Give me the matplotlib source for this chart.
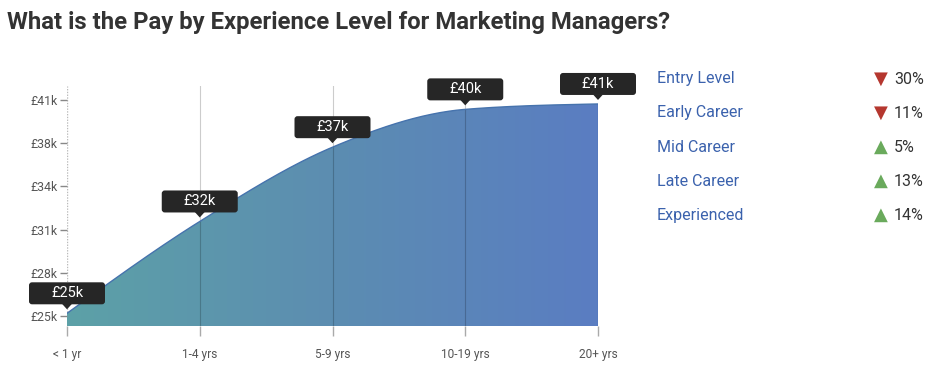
import numpy as np
import matplotlib
matplotlib.use("Agg")
import matplotlib.pyplot as plt
import matplotlib.transforms as mtransforms
from matplotlib.colors import LinearSegmentedColormap
from matplotlib.patches import FancyBboxPatch, Polygon

# data
experience = ["< 1 yr", "1-4 yrs", "5-9 yrs", "10-19 yrs", "20+ yrs"]
pay_k = [25.0, 31.8, 37.3, 40.1, 40.5]
pay_labels = ["£25k", "£32k", "£37k", "£40k", "£41k"]
ytick_vals = [24.8, 28.0, 31.2, 34.4, 37.6, 40.8]
ytick_labels = ["£25k", "£28k", "£31k", "£34k", "£38k", "£41k"]
levels = ["Entry Level", "Early Career", "Mid Career", "Late Career", "Experienced"]
change_pct = [-30, -11, 5, 13, 14]

plt.rcParams['font.family'] = ['Roboto', 'DejaVu Sans']


def monotone_curve(x, y, n=60):
    """Monotone cubic path through the points (like d3.curveMonotoneX)."""
    x = np.asarray(x, float)
    y = np.asarray(y, float)
    h = np.diff(x)
    s = np.diff(y) / h
    t = np.zeros_like(y)
    for i in range(1, len(y) - 1):
        p = (s[i - 1] * h[i] + s[i] * h[i - 1]) / (h[i - 1] + h[i])
        t[i] = (np.sign(s[i - 1]) + np.sign(s[i])) * min(abs(s[i - 1]), abs(s[i]), 0.5 * abs(p))
    t[0] = (3 * s[0] - t[1]) / 2
    t[-1] = (3 * s[-1] - t[-2]) / 2
    xs, ys = [], []
    for i in range(len(h)):
        u = np.linspace(0, 1, n)
        h00 = 2 * u**3 - 3 * u**2 + 1
        h10 = u**3 - 2 * u**2 + u
        h01 = -2 * u**3 + 3 * u**2
        h11 = u**3 - u**2
        xs.append(x[i] + u * h[i])
        ys.append(h00 * y[i] + h10 * h[i] * t[i] + h01 * y[i + 1] + h11 * h[i] * t[i + 1])
    return np.concatenate(xs), np.concatenate(ys)


fig = plt.figure(figsize=(9.38, 3.72), dpi=100)
ax = fig.add_axes([67 / 938, 46 / 372, 531 / 938, 240 / 372])

xpos = np.arange(len(experience))
ymin, ymax = 24.06, 41.83
ax.set_xlim(0, len(experience) - 1)
ax.set_ylim(ymin, ymax)

cx, cy = monotone_curve(xpos, pay_k)

# gradient fill under the curve
cmap = LinearSegmentedColormap.from_list("pay", ["#5da1a7", "#5c8db1", "#5a7dc2"])
grad = np.linspace(0, 1, 256).reshape(1, -1)
img = ax.imshow(grad, cmap=cmap, aspect="auto", extent=[0, len(experience) - 1, ymin, ymax],
                origin="lower", zorder=1)
poly = Polygon(np.column_stack([np.r_[cx, cx[-1], cx[0]], np.r_[cy, ymin, ymin]]),
               closed=True, transform=ax.transData, facecolor="none", edgecolor="none")
ax.add_patch(poly)
img.set_clip_path(poly)
ax.plot(cx, cy, color="#4673ad", lw=1.0, zorder=3)
ax.plot([xpos[-1], xpos[-1]], [ymin, pay_k[-1]], color="#4a6fae", lw=1.0, zorder=3)

# vertical guide lines
for xv in xpos[1:-1]:
    ax.axvline(xv, color="black", alpha=0.2, lw=0.8, zorder=2)
ax.axvline(0, color="#bbbbbb", lw=1.0, ls=(0, (1, 1)), zorder=0)

for side in ["top", "right", "left", "bottom"]:
    ax.spines[side].set_visible(False)

ax.set_xticks(xpos)
ax.set_xticklabels(experience, fontsize=8.6, color="#555555")
ax.tick_params(axis="x", length=7, width=1, color="#aaaaaa", pad=9)
ax.set_yticks(ytick_vals)
ax.set_yticklabels(ytick_labels, fontsize=8.8, color="#555555")
ax.tick_params(axis="y", length=5, width=1, color="#888888", pad=2)

# tooltip boxes
fig.canvas.draw()
for xv, yv, lab in zip(xpos, pay_k, pay_labels):
    px, py = ax.transData.transform((xv, yv))
    tr = mtransforms.Affine2D().translate(px, py)
    box = FancyBboxPatch((-38, 9), 76, 22, boxstyle="round,pad=0,rounding_size=3",
                         transform=tr, facecolor="#262626", edgecolor="none",
                         clip_on=False, zorder=5)
    fig.patches.append(box)
    tip = Polygon([[-5, 9.5], [5, 9.5], [0, 4]], closed=True, transform=tr,
                  facecolor="#262626", edgecolor="none", clip_on=False, zorder=5)
    fig.patches.append(tip)
    fig.text(0, 20, lab, transform=tr, fontsize=10.5, color="white",
             ha="center", va="center", zorder=6)

# title
fig.text(7 / 938, 1 - 23 / 372, "What is the Pay by Experience Level for Marketing Managers?",
         fontsize=17.2, fontweight="bold", color="#333333", ha="left", va="center")

# right side summary
for i, (lev, pct) in enumerate(zip(levels, change_pct)):
    yy = 1 - (79 + 34 * i) / 372
    fig.text(657 / 938, yy, lev, fontsize=11.5, color="#3b62ad", ha="left", va="center")
    if pct < 0:
        sym, col = "▼", "#b5372f"
    else:
        sym, col = "▲", "#6aaa5c"
    fig.text(881 / 938, yy, sym, fontsize=13, color=col, ha="center", va="center",
             family="DejaVu Sans")
    fig.text(894 / 938, yy, f"{abs(pct)}%", fontsize=11.5, color="#333333", ha="left",
             va="center")

fig.savefig("out.png", dpi=100)
